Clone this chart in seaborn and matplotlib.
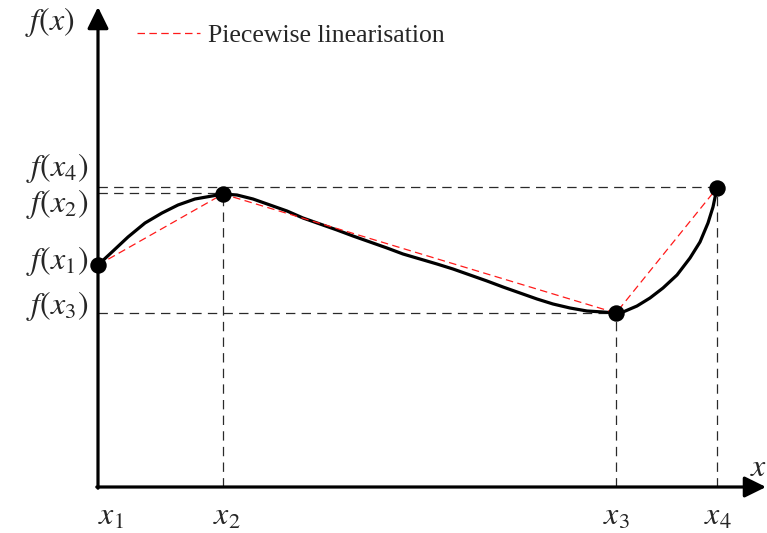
import matplotlib
matplotlib.use("Agg")
import matplotlib.pyplot as plt
import seaborn as sns

# ---- data (schematic units: origin at axes corner) ----
knot_labels = ["x_1", "x_2", "x_3", "x_4"]
knot_x = [0, 125, 518, 619]
knot_y = [222, 293, 174, 299]

curve_x = [0, 14, 30, 47, 64, 80, 97, 114, 125, 139, 155, 172, 189, 205, 222, 239,
           255, 272, 289, 305, 322, 339, 355, 372, 389, 405, 422, 439, 455, 472,
           489, 505, 518, 525, 539, 552, 565, 579, 592, 602, 610, 615, 619]
curve_y = [222, 235, 250, 264, 274, 282, 288, 291, 293, 292, 288, 282, 276, 269, 263, 257,
           251, 245, 239, 233, 228, 223, 218, 212, 206, 200, 194, 188, 183, 179,
           176, 175, 174, 175, 181, 189, 199, 212, 229, 245, 264, 280, 299]

legend_label = "Piecewise linearisation"

sns.set_theme(style="white")
plt.rcParams["mathtext.fontset"] = "stix"

fig = plt.figure(figsize=(7.67, 5.33), dpi=100)
ax = fig.add_axes([0, 0, 1, 1])
ax.set_xlim(-98, 767 - 98)
ax.set_ylim(-(533 - 487), 487)
ax.axis("off")

guide = dict(color="#2a2a2a", lw=0.9, dashes=(7.5, 5))
guide_y = [294, 174, 300]
for xi, yi in zip(knot_x[1:], guide_y):
    ax.plot([0, xi], [yi, yi], **guide)
    ax.plot([xi, xi], [0, yi], **guide)

# smooth function
sns.lineplot(x=curve_x, y=curve_y, sort=False, ax=ax, color="black", lw=2.3,
             solid_joinstyle="round", solid_capstyle="round", zorder=3)
# piecewise linearisation
sns.lineplot(x=knot_x, y=knot_y, sort=False, ax=ax, color="#ff1a1a", lw=0.9,
             zorder=4, label=legend_label)
ax.lines[-1].set_dashes((6, 3.5))
sns.scatterplot(x=knot_x, y=knot_y, ax=ax, color="black", s=140, zorder=5,
                edgecolor="black", linewidth=0)

# axes with arrows
arrow = dict(arrowstyle="-|>,head_length=0.65,head_width=0.32", lw=2.3,
             color="black", mutation_scale=20, shrinkA=0, shrinkB=0)
ax.annotate("", xy=(0, 480), xytext=(0, -1.2), arrowprops=arrow)
ax.annotate("", xy=(668, 0), xytext=(-1.2, 0), arrowprops=arrow)

fs = 23
# y labels
ylabels = [("f(x_4)", 319), ("f(x_2)", 283), ("f(x_1)", 226), ("f(x_3)", 181)]
for txt, yy in ylabels:
    ax.text(-10, yy, "$" + txt + "$", ha="right", va="center", fontsize=fs)
ax.text(-48, 465, "$f(x)$", ha="center", va="center", fontsize=fs)
ax.text(652, 20, "$x$", ha="left", va="center", fontsize=fs)

# x labels
xoff = [13, 4, 0, 1]
for lab, xi, off in zip(knot_labels, knot_x, xoff):
    ax.text(xi + off, -29, "$" + lab + "$", ha="center", va="center", fontsize=fs)

leg = ax.legend(loc="center left", bbox_to_anchor=(137 / 767, 1 - 36 / 533),
                bbox_transform=fig.transFigure, frameon=False,
                prop={"family": "Liberation Serif", "size": 18.5},
                handlelength=2.45, handletextpad=0.3, borderpad=0, borderaxespad=0)

fig.savefig("out.png", dpi=100)
